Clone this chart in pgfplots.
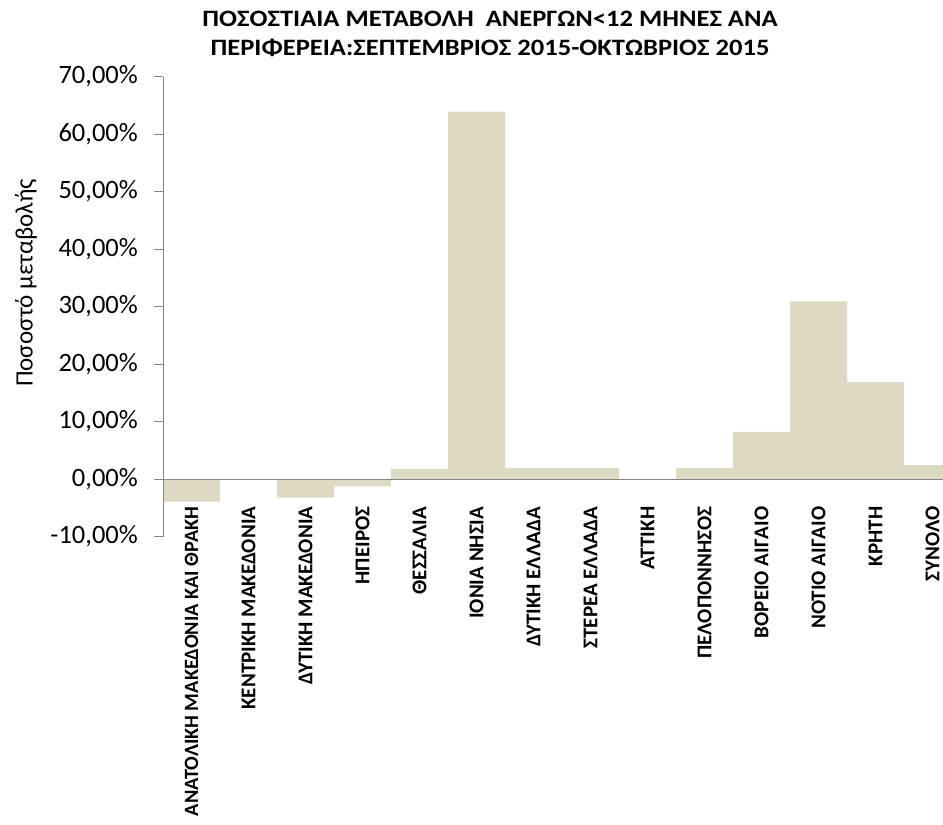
\documentclass[border=0pt]{standalone}
\usepackage{pgfplots}
\pgfplotsset{compat=1.18}
\usepackage{fontspec}
\setmainfont{Carlito}
\newfontfamily\titlefont[FakeStretch=1.13]{Carlito}
\definecolor{barc}{HTML}{DDD9C3}
\definecolor{axc}{HTML}{868686}
\begin{document}
\begin{tikzpicture}
\begin{axis}[
  at={(163pt,-536.5pt)}, anchor=south west,
  scale only axis, width=798pt, height=460pt,
  xmin=-0.5, xmax=13.5, ymin=-10, ymax=70,
  axis y line=left, axis x line=middle,
  axis line style={draw=axc, line width=1pt, -},
  axis on top=true,
  hide obscured x ticks=false, hide obscured y ticks=false,
  ytick={-10,0,10,20,30,40,50,60,70},
  yticklabels={{-10,00\%},{0,00\%},{10,00\%},{20,00\%},{30,00\%},{40,00\%},{50,00\%},{60,00\%},{70,00\%}},
  ytick align=outside, major tick length=9pt,
  ytick style={draw=axc, line width=1pt},
  yticklabel style={font=\fontsize{26.5}{30}\selectfont, anchor=east, inner sep=0pt, xshift=-16pt, text=black},
  xtick={0,1,2,3,4,5,6,7,8,9,10,11,12,13},
  xticklabels={{\fontsize{20.3}{22}\selectfont ΑΝΑΤΟΛΙΚΗ ΜΑΚΕΔΟΝΙΑ ΚΑΙ ΘΡΑΚΗ}, ΚΕΝΤΡΙΚΗ ΜΑΚΕΔΟΝΙΑ, ΔΥΤΙΚΗ ΜΑΚΕΔΟΝΙΑ, ΗΠΕΙΡΟΣ, ΘΕΣΣΑΛΙΑ, ΙΟΝΙΑ ΝΗΣΙΑ, ΔΥΤΙΚΗ ΕΛΛΑΔΑ, ΣΤΕΡΕΑ ΕΛΛΑΔΑ, ΑΤΤΙΚΗ, ΠΕΛΟΠΟΝΝΗΣΟΣ, ΒΟΡΕΙΟ ΑΙΓΑΙΟ, ΝΟΤΙΟ ΑΙΓΑΙΟ, ΚΡΗΤΗ, ΣΥΝΟΛΟ},
  xtick style={draw=none},
  xticklabel style={font=\bfseries\fontsize{21}{22}\selectfont, rotate=90, anchor=east, inner sep=0pt, text=black},
  xticklabel shift=23pt,
]
\addplot[ybar, bar width=57pt, fill=barc, draw=none] coordinates {
(0,-3.95) (1,0) (2,-3.25) (3,-1.3) (4,1.7) (5,63.9) (6,1.95)
(7,1.95) (8,0) (9,1.95) (10,8.2) (11,30.9) (12,16.9) (13,2.4)
};
\end{axis}
\node[font=\titlefont\bfseries\fontsize{23.5}{28.3}\selectfont, align=center] at (490pt,-34pt)
  {ΠΟΣΟΣΤΙΑΙΑ ΜΕΤΑΒΟΛΗ\ \ ΑΝΕΡΓΩΝ<12 ΜΗΝΕΣ ΑΝΑ\\ΠΕΡΙΦΕΡΕΙΑ:ΣΕΠΤΕΜΒΡΙΟΣ 2015-ΟΚΤΩΒΡΙΟΣ 2015};
\node[rotate=90, font=\fontsize{25}{28}\selectfont] at (26pt,-283pt) {Ποσοστό μεταβολής};
\pgfresetboundingbox
\path (0pt,0pt) rectangle (943pt,-825pt);
\end{tikzpicture}
\end{document}
